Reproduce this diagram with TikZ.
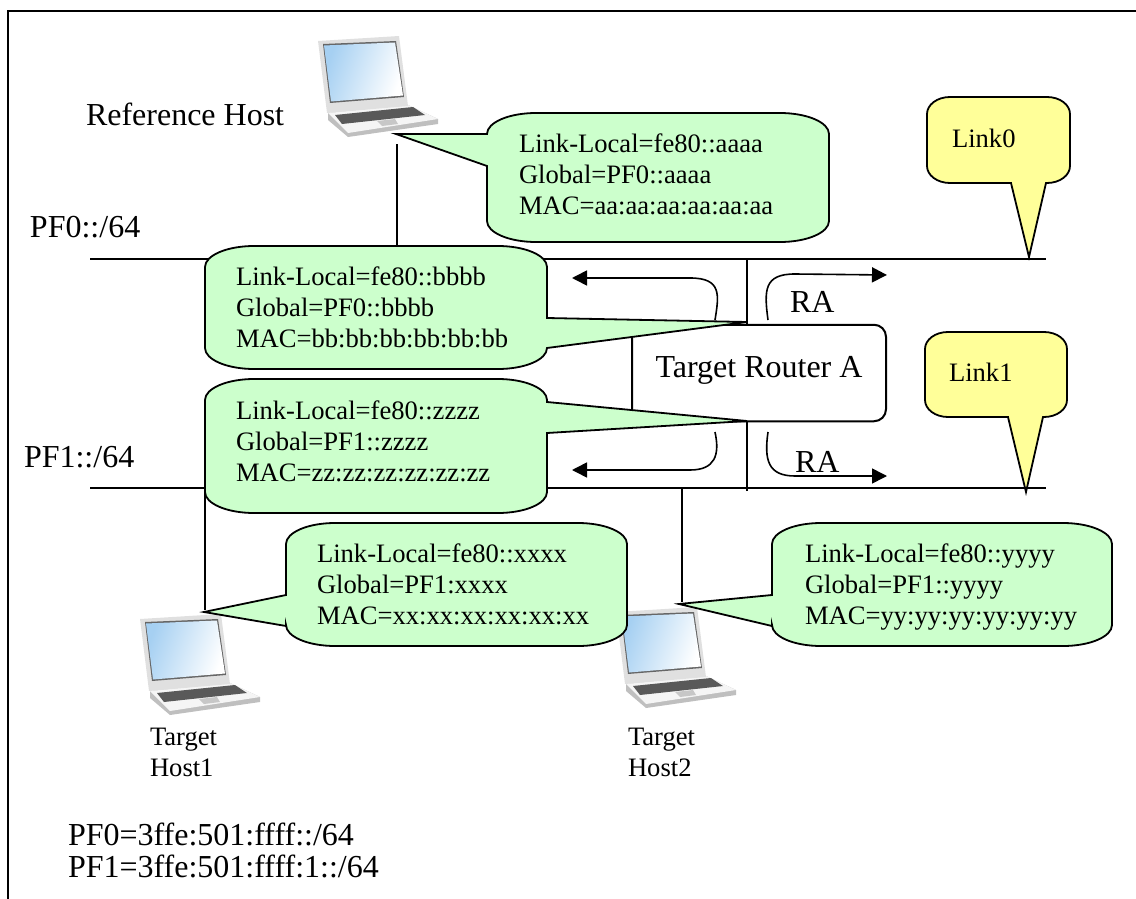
\documentclass[tikz,border=0pt]{standalone}
\usepackage{fontspec}
\setmainfont{Liberation Serif}
\usetikzlibrary{arrows.meta}

\definecolor{calloutgreen}{HTML}{CCFFCC}
\definecolor{calloutyellow}{HTML}{FFFF99}
\definecolor{screenblue}{HTML}{A6D0F2}

% #1 style, #2-#5 left top right bottom, #6-#8 wedge on left, right, bottom side
\newcommand{\bubble}[8]{
\draw [#1] (#2,#3+\ry) arc [start angle=180, end angle=90, x radius=\rx pt, y radius=\ry pt]
  -- (#4-\rx,#3) arc [start angle=90, end angle=0, x radius=\rx pt, y radius=\ry pt]
  #7 -- (#4,#5-\ry) arc [start angle=0, end angle=-90, x radius=\rx pt, y radius=\ry pt]
  #8 -- (#2+\rx,#5) arc [start angle=-90, end angle=-180, x radius=\rx pt, y radius=\ry pt]
  #6 -- cycle;
}

\begin{document}
\begin{tikzpicture}[
  x=1pt, y=-1pt,
  line width=2pt,
  green/.style={fill=calloutgreen, line width=1.8pt, line join=miter},
  yellow/.style={fill=calloutyellow, line width=1.8pt, line join=miter},
  big/.style={font=\fontsize{32}{32}\selectfont, inner sep=0pt, anchor=base west},
  small/.style={font=\fontsize{26.6}{31}\selectfont, inner sep=0pt, anchor=base west, align=left},
  bigpair/.style={font=\fontsize{32}{32}\selectfont, inner sep=0pt, anchor=base west, align=left},
  flow/.style={line width=1.6pt, -{Triangle[length=15pt,width=15pt]}},
  laptop/.pic={
    \fill [black!25] (28,93) -- (108,85) -- (138,99) -- (138,104) -- (48,117) -- (28,100) -- cycle;
    \fill [black!4] (28,93) -- (108,85) -- (138,99) -- (48,113) -- cycle;
    \fill [black!65] (35,95) -- (113,87) -- (125,95) -- (42,104) -- cycle;
    \fill [black!22] (77,101) -- (95,99) -- (98,104) -- (82,106) -- cycle;
    \fill [black!12] (18,21) -- (99,16) -- (108,86) -- (27,93) -- cycle;
    \fill [black!60] (23,24) -- (96,21) -- (104,77) -- (30,83) -- cycle;
    \shade [left color=screenblue, right color=white, shading angle=70]
      (24,25.5) -- (95,22.5) -- (103,75.5) -- (31,81.5) -- cycle;
  },
]

\useasboundingbox (0,0) rectangle (1136,899);

% frame
\draw [line width=2.4pt] (8,899) -- (8,11) -- (1136,11);

\coordinate (linkA) at (90,259);
\coordinate (linkAend) at (1046,259);
\coordinate (linkB) at (90,488);
\coordinate (linkBend) at (1046,488);

\draw (linkA) -- (linkAend);
\draw (linkB) -- (linkBend);

% hosts
\coordinate (refport) at (397,144);
\coordinate (refjoin) at (397,259);
\coordinate (hostAport) at (205,610);
\coordinate (hostAjoin) at (205,488);
\coordinate (hostBport) at (682,602);
\coordinate (hostBjoin) at (682,488);
\draw (refport) -- (refjoin);
\draw (hostAjoin) -- (hostAport);
\draw (hostBjoin) -- (hostBport);

\pic at (300,20) {laptop};
\pic at (122,598) {laptop};
\pic at (598,591) {laptop};

% router
\node (router) [draw, fill=white, rounded corners=12pt, minimum width=254pt, minimum height=96.5pt,
  inner sep=0pt, font=\fontsize{32}{32}\selectfont] at (759,373) {\raisebox{-4pt}[0pt][0pt]{Target Router A}\hspace{2pt}};
\coordinate (upjoin) at (747,259);
\coordinate (downjoin) at (747,491);
\draw (upjoin) -- (upjoin |- router.north);
\draw (downjoin) -- (downjoin |- router.south);

% router advertisements
\coordinate (raAfrom) at (715,320);
\coordinate (raAto) at (572,278);
\coordinate (raBfrom) at (768,320);
\coordinate (raBto) at (887,275);
\coordinate (raCfrom) at (715,432);
\coordinate (raCto) at (572,470);
\coordinate (raDfrom) at (768,432);
\coordinate (raDto) at (887,476);
\draw [flow] (raAfrom) .. controls (719,295) and (722,278) .. (690,278) -- (raAto);
\draw [flow] (raBfrom) .. controls (764,290) and (764,274) .. (795,274) -- (raBto);
\draw [flow] (raCfrom) .. controls (720,455) and (715,470) .. (690,470) -- (raCto);
\draw [flow] (raDfrom) .. controls (764,460) and (768,476) .. (795,476) -- (raDto);

% callouts
\def\rx{49}\def\ry{21}
\bubble{green}{487}{113}{829}{242}{-- (487,166) -- (396,134) -- (487,134)}{}{}
\bubble{green}{205}{246}{547}{369}{}{-- (547,318) -- (747,322) -- (547,348)}{}
\bubble{green}{205}{379}{547}{513}{}{-- (547,402) -- (747,421) -- (547,433)}{}
\bubble{green}{286}{523}{627}{646}{-- (286,626) -- (204,612) -- (286,595)}{}{}
\bubble{green}{772}{523}{1112}{646}{-- (772,626) -- (679,604) -- (772,595)}{}{}
\def\rx{23}\def\ry{17}
\bubble{yellow}{927}{97}{1070}{183}{}{}{-- (1046,183) -- (1029,257) -- (1011,183)}
\bubble{yellow}{925}{332}{1067}{417}{}{}{-- (1043,417) -- (1026,492) -- (1008,417)}

% labels
\node (reflabel) [big] at (85,125) {Reference Host};
\node (pfAlabel) [big] at (29,237) {PF0::/64};
\node (pfBlabel) [big] at (23,467) {PF1::/64};
\node (raAlabel) [big] at (789,312) {RA};
\node (raBlabel) [big] at (794,472) {RA};
\node (linkAlabel) [small] at (951,147) {Link0};
\node (linkBlabel) [small] at (948,381) {Link1};

\node (refaddr) [small] at (518,214) {Link-Local=fe80::aaaa\\Global=PF0::aaaa\\MAC=aa:aa:aa:aa:aa:aa};
\node (upaddr) [small] at (235,347) {Link-Local=fe80::bbbb\\Global=PF0::bbbb\\MAC=bb:bb:bb:bb:bb:bb};
\node (downaddr) [small] at (235,481) {Link-Local=fe80::zzzz\\Global=PF1::zzzz\\MAC=zz:zz:zz:zz:zz:zz};
\node (hostAaddr) [small] at (316,624) {Link-Local=fe80::xxxx\\Global=PF1:xxxx\\MAC=xx:xx:xx:xx:xx:xx};
\node (hostBaddr) [small] at (804,624) {Link-Local=fe80::yyyy\\Global=PF1::yyyy\\MAC=yy:yy:yy:yy:yy:yy};

\node (hostAlabel) [small] at (149,776) {Target\\Host1};
\node (hostBlabel) [small] at (627,776) {Target\\Host2};

\node (prefixes) [bigpair] at (67,877) {PF0=3ffe:501:ffff::/64\\PF1=3ffe:501:ffff:1::/64};

\end{tikzpicture}
\end{document}
